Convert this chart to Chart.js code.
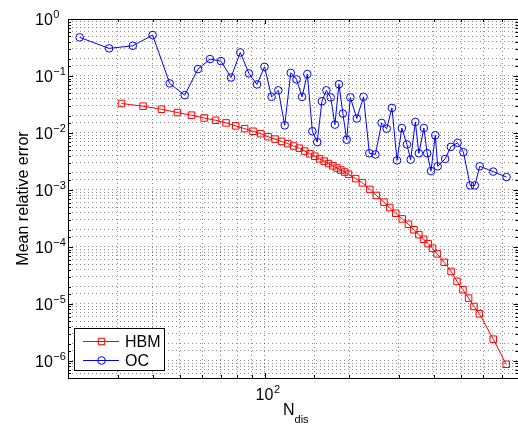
<!DOCTYPE html>
<html>
<head>
<meta charset="utf-8">
<script src="https://cdn.jsdelivr.net/npm/chart.js@4.4.0/dist/chart.umd.min.js"></script>
<style>
    html, body { margin: 0; padding: 0; background: #fff; overflow: hidden; }
    #wrap { width: 518px; height: 425px; overflow: hidden; }
</style>
</head>
<body>
<div id="wrap"><canvas id="chart" width="524" height="425"></canvas></div>
<script>
// N_dis values and mean relative error
const hbmN = [31, 37, 43, 49, 55, 61, 67, 73, 79, 85, 91, 97, 103, 109, 115, 121, 127, 133, 139, 145,
    151, 157, 163, 169, 175, 181, 187, 193, 199, 211, 223, 237, 250, 266, 279, 293, 309, 325, 340, 354,
    368, 382, 396, 411, 436, 461, 484, 508, 532, 556, 581, 651, 724];
const hbmErr = [0.0329, 0.0295, 0.0261, 0.0228, 0.0205, 0.0183, 0.0167, 0.0150, 0.0133, 0.0119,
    0.0107, 0.0097, 0.0086, 0.0078, 0.0071, 0.0065, 0.0059, 0.0054, 0.0048, 0.0043,
    0.0039, 0.0035, 0.0032, 0.0029, 0.00265, 0.00243, 0.00223, 0.00206, 0.00189,
    0.00158, 0.00133, 0.00102, 0.00080, 0.00061, 0.00049, 0.00039, 0.00031, 0.00025, 0.00020,
    0.000164, 0.000136, 0.000114, 0.0000945, 0.0000754,
    0.0000536, 0.0000371, 0.0000248, 0.0000177, 0.0000126, 0.0000090, 0.0000067,
    0.0000024, 0.00000087];

const ocN = [22, 28, 34, 40, 46, 52, 58, 64, 70, 76, 82, 88, 94, 100, 106, 112, 118, 124, 130, 136,
    142, 148, 154, 160, 166, 172, 178, 184, 190, 196, 202, 213, 225, 236, 248, 261, 272, 284, 296, 308,
    321, 331, 344, 354, 369, 379, 391, 405, 413, 439, 460, 486, 510, 539, 560, 583, 651, 726];
const ocErr = [0.476, 0.305, 0.339, 0.523, 0.074, 0.046, 0.132, 0.198, 0.182, 0.094,
    0.259, 0.111, 0.071, 0.145, 0.043, 0.056, 0.0136, 0.1135, 0.087, 0.043,
    0.108, 0.0107, 0.0069, 0.036, 0.056, 0.042, 0.014, 0.0718, 0.0219, 0.0076,
    0.042, 0.0179, 0.043, 0.0044, 0.0042, 0.015, 0.0119, 0.0275, 0.0033, 0.0122,
    0.0063, 0.0034, 0.0156, 0.0044, 0.0122, 0.0044, 0.00214, 0.0091, 0.0026,
    0.0035, 0.0057, 0.0067, 0.0046, 0.0012, 0.0012, 0.0026,
    0.0021, 0.00168];

const xTickPowers = [2];
const yTickPowers = [0, -1, -2, -3, -4, -5, -6];
const seriesNames = ['HBM', 'OC'];
const xTitle = ['N', 'dis'];
const yTitle = 'Mean relative error';

const FONT = '"Liberation Sans", Arial, Helvetica, sans-serif';
const RED = '#ff0000';
const BLUE = '#0000ff';

function toPoints(xs, ys) {
    return xs.map((v, i) => ({ x: v, y: ys[i] }));
}

function isDecade(v) {
    const l = Math.log10(v);
    return Math.abs(l - Math.round(l)) < 1e-6;
}

function powerLabel(ctx, base, exp, x, y, align) {
    ctx.font = '16px ' + FONT;
    const bw = ctx.measureText(base).width;
    let left = x;
    if (align === 'center') {
        left = x - bw / 2;
    }
    ctx.textAlign = 'left';
    ctx.textBaseline = 'alphabetic';
    ctx.fillText(base, left, y);
    ctx.font = '11px ' + FONT;
    ctx.fillText(exp, left + bw + 0.5, y - 7);
}

function marker(ctx, style, x, y, color) {
    ctx.strokeStyle = color;
    ctx.beginPath();
    if (style === 'rect') {
        ctx.rect(x - 3.2, y - 3.2, 6.4, 6.4);
    } else {
        ctx.arc(x, y, 3.8, 0, Math.PI * 2);
    }
    ctx.stroke();
}

const matlabAxes = {
    id: 'matlabAxes',
    afterDraw(chart) {
        const ctx = chart.ctx;
        const a = chart.chartArea;
        const xs = chart.scales.x;
        const ys = chart.scales.y;
        ctx.save();
        ctx.lineWidth = 1;
        ctx.strokeStyle = '#000';

        // inward tick marks, as matlab draws them
        ctx.beginPath();
        xs.ticks.forEach(t => {
            const px = Math.round(xs.getPixelForValue(t.value)) + 0.5;
            const len = isDecade(t.value) ? 5 : 3;
            ctx.moveTo(px, a.bottom); ctx.lineTo(px, a.bottom - len);
            ctx.moveTo(px, a.top); ctx.lineTo(px, a.top + len);
        });
        ys.ticks.forEach(t => {
            const py = Math.round(ys.getPixelForValue(t.value)) + 0.5;
            const len = isDecade(t.value) ? 5 : 3;
            ctx.moveTo(a.left, py); ctx.lineTo(a.left + len, py);
            ctx.moveTo(a.right, py); ctx.lineTo(a.right - len, py);
        });
        ctx.stroke();

        // box
        ctx.strokeRect(Math.round(a.left) + 0.5, Math.round(a.top) + 0.5,
            Math.round(a.right - a.left), Math.round(a.bottom - a.top));

        // tick labels
        ctx.fillStyle = '#000';
        yTickPowers.forEach(p => {
            const py = ys.getPixelForValue(Math.pow(10, p));
            powerLabel(ctx, '10', p < 0 ? '\u2212' + (-p) : String(p), 35, py + 6, 'left');
        });
        xTickPowers.forEach(p => {
            const px = xs.getPixelForValue(Math.pow(10, p));
            powerLabel(ctx, '10', String(p), px, a.bottom + 22, 'center');
        });

        // axis titles
        ctx.font = '16px ' + FONT;
        ctx.textAlign = 'left';
        ctx.fillText(xTitle[0], 283, 414.5);
        const nw = ctx.measureText(xTitle[0]).width;
        ctx.font = '11px ' + FONT;
        ctx.fillText(xTitle[1], 283 + nw, 422.5);

        ctx.save();
        ctx.translate(28, (a.top + a.bottom) / 2);
        ctx.rotate(-Math.PI / 2);
        ctx.font = '16px ' + FONT;
        ctx.textAlign = 'center';
        ctx.fillText(yTitle, 0, 0);
        ctx.restore();

        // legend box
        const lx = 74.5, ly = 328.5, lw = 90, lh = 42;
        ctx.fillStyle = '#fff';
        ctx.fillRect(lx, ly, lw, lh);
        ctx.strokeStyle = '#000';
        ctx.strokeRect(lx, ly, lw, lh);
        const ds = chart.data.datasets;
        [341, 360].forEach((yy, i) => {
            const d = ds[i];
            ctx.strokeStyle = d.borderColor;
            ctx.beginPath();
            ctx.moveTo(83, yy + 0.5);
            ctx.lineTo(119, yy + 0.5);
            ctx.stroke();
            marker(ctx, d.pointStyle, 101.5, yy + 0.5, d.borderColor);
            ctx.fillStyle = '#000';
            ctx.font = '16px ' + FONT;
            ctx.textAlign = 'left';
            ctx.fillText(d.label, 125, yy + 6);
        });
        ctx.restore();
    }
};

const gridOpts = {
    color: 'rgba(0,0,0,0.45)',
    lineWidth: 1,
    drawTicks: false
};

new Chart(document.getElementById('chart'), {
    type: 'line',
    data: {
        datasets: [{
            label: seriesNames[0],
            data: toPoints(hbmN, hbmErr),
            borderColor: RED,
            borderWidth: 1,
            pointStyle: 'rect',
            pointRadius: 4.6,
            pointBorderWidth: 1,
            pointBorderColor: RED,
            pointBackgroundColor: 'rgba(0,0,0,0)',
            tension: 0
        }, {
            label: seriesNames[1],
            data: toPoints(ocN, ocErr),
            borderColor: BLUE,
            borderWidth: 1,
            pointStyle: 'circle',
            pointRadius: 3.8,
            pointBorderWidth: 1,
            pointBorderColor: BLUE,
            pointBackgroundColor: 'rgba(0,0,0,0)',
            tension: 0
        }]
    },
    options: {
        responsive: false,
        animation: false,
        layout: { padding: { left: 68, top: 19, right: 2, bottom: 47 } },
        plugins: {
            legend: { display: false },
            tooltip: { enabled: false }
        },
        scales: {
            x: {
                type: 'logarithmic',
                min: 20,
                max: 800,
                afterFit(scale) { scale.height = 0; },
                ticks: { display: false },
                grid: gridOpts,
                border: { display: false, dash: [1, 3] }
            },
            y: {
                type: 'logarithmic',
                min: 5e-7,
                max: 1,
                afterFit(scale) { scale.width = 0; },
                ticks: { display: false },
                grid: gridOpts,
                border: { display: false, dash: [1, 3] }
            }
        }
    },
    plugins: [matlabAxes]
});
</script>
</body>
</html>
